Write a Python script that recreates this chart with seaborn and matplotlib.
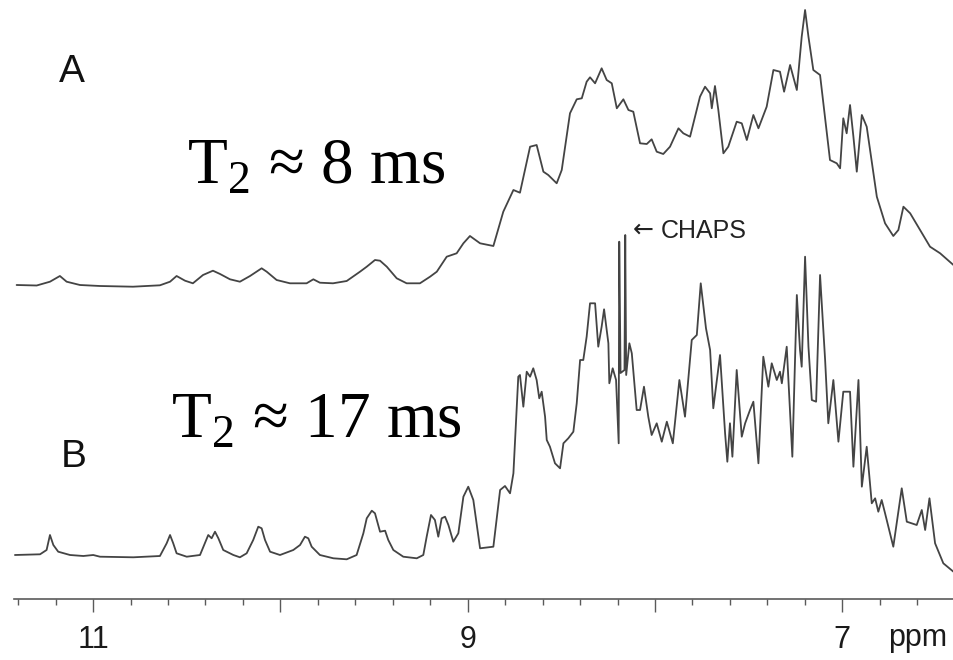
import numpy as np
import pandas as pd
import matplotlib
matplotlib.use("Agg")
import matplotlib.pyplot as plt
from matplotlib.ticker import MultipleLocator
import seaborn as sns

# spectrum A (T2 ~ 8 ms): chemical shift in ppm, height above its baseline (arb. units)
a_ppm = [11.408, 11.301, 11.230, 11.177, 11.141, 11.070, 10.963, 10.787, 10.643, 10.589,
         10.554, 10.509, 10.467, 10.413, 10.360, 10.322, 10.269, 10.216, 10.162, 10.100,
         10.073, 10.020, 9.949, 9.860, 9.824, 9.789, 9.719, 9.646, 9.575, 9.539,
         9.495, 9.468, 9.432, 9.379, 9.326, 9.255, 9.201, 9.165, 9.112, 9.059,
         9.023, 8.988, 8.934, 8.863, 8.810, 8.756, 8.721, 8.667, 8.632, 8.596,
         8.570, 8.525, 8.498, 8.454, 8.418, 8.391, 8.365, 8.347, 8.320, 8.285,
         8.258, 8.231, 8.204, 8.169, 8.142, 8.116, 8.080, 8.044, 8.018, 7.991,
         7.956, 7.920, 7.875, 7.849, 7.813, 7.760, 7.733, 7.706, 7.697, 7.680,
         7.662, 7.635, 7.609, 7.564, 7.537, 7.510, 7.475, 7.448, 7.404, 7.368,
         7.333, 7.311, 7.279, 7.243, 7.217, 7.199, 7.181, 7.155, 7.119, 7.066,
         7.030, 7.012, 6.995, 6.977, 6.959, 6.941, 6.923, 6.896, 6.870, 6.816,
         6.772, 6.728, 6.701, 6.674, 6.638, 6.585, 6.532, 6.478, 6.407]
a_int = [0, -0.5, 3.3, 9, 3.3, 0, -1, -1.7, -0.3, 3.3,
         9, 4.3, 1.7, 10, 14.3, 11, 5.7, 3.3, 9, 16.7,
         13.3, 5, 1.7, 1.7, 5.7, 2.3, 1.7, 4, 13.3, 18.3,
         25, 24.3, 18.3, 6.7, 1.7, 1.7, 8.3, 13.3, 28.3, 31.7,
         41.7, 49, 41.7, 39, 73.3, 95, 92.3, 138.3, 140, 113.3,
         110, 101.7, 115, 171.7, 185.7, 186.7, 203.3, 207.7, 201.7, 216.7,
         205, 201.7, 176.7, 185.7, 175, 173.3, 141.7, 141, 145.7, 133.3,
         131, 138.3, 156.7, 151.7, 148.3, 188.3, 198.3, 191.7, 176.7, 199,
         175, 131.7, 138.3, 163.3, 161.7, 145, 170, 156.7, 178.3, 215,
         213.3, 193.3, 220, 195, 248.3, 275, 248.3, 215, 210, 125,
         121.7, 116.7, 166.7, 151.7, 180, 148.3, 113.3, 170, 158.3, 88.3,
         61.7, 49, 55, 78.3, 71.7, 55, 38.3, 31.7, 20]

# spectrum B (T2 ~ 17 ms)
b_ppm = [11.417, 11.283, 11.248, 11.230, 11.212, 11.186, 11.123, 11.052, 10.999, 10.963,
         10.785, 10.643, 10.607, 10.589, 10.572, 10.554, 10.500, 10.429, 10.403, 10.385,
         10.367, 10.349, 10.331, 10.305, 10.251, 10.216, 10.180, 10.145, 10.118, 10.100,
         10.082, 10.055, 10.002, 9.931, 9.895, 9.869, 9.851, 9.833, 9.789, 9.717,
         9.646, 9.593, 9.557, 9.539, 9.512, 9.495, 9.468, 9.441, 9.424, 9.397,
         9.344, 9.272, 9.237, 9.219, 9.196, 9.175, 9.157, 9.139, 9.121, 9.103,
         9.077, 9.050, 9.023, 8.997, 8.970, 8.934, 8.863, 8.827, 8.801, 8.774,
         8.756, 8.730, 8.721, 8.703, 8.685, 8.667, 8.650, 8.632, 8.618, 8.605,
         8.587, 8.578, 8.561, 8.534, 8.507, 8.489, 8.463, 8.436, 8.418, 8.400,
         8.383, 8.365, 8.347, 8.320, 8.303, 8.285, 8.272, 8.249, 8.244, 8.226,
         8.208, 8.194, 8.191, 8.184, 8.163, 8.159, 8.154, 8.137, 8.124, 8.098,
         8.080, 8.059, 8.036, 8.018, 7.991, 7.964, 7.937, 7.905, 7.870, 7.840,
         7.804, 7.777, 7.756, 7.728, 7.706, 7.689, 7.653, 7.626, 7.614, 7.600,
         7.587, 7.564, 7.537, 7.519, 7.493, 7.475, 7.448, 7.422, 7.395, 7.377,
         7.350, 7.333, 7.323, 7.297, 7.267, 7.243, 7.226, 7.217, 7.199, 7.181,
         7.163, 7.140, 7.119, 7.092, 7.075, 7.048, 7.021, 6.995, 6.959, 6.941,
         6.914, 6.896, 6.870, 6.843, 6.825, 6.808, 6.790, 6.772, 6.728, 6.683,
         6.656, 6.603, 6.576, 6.558, 6.535, 6.505, 6.461, 6.407]
b_int = [0, 0.7, 5, 20, 10, 3.3, 0, -1, 0, -1.7,
         -2.3, -1, 11.7, 20, 11.7, 1.7, -1.7, 0, 11.7, 20,
         16.7, 23.3, 16.7, 5, 0, -2.3, 1.7, 15, 28.3, 26.7,
         15, 3.3, 0, 5, 10, 18.3, 16.7, 8.3, 0, -3.3,
         -4.3, 0, 21.7, 36.7, 44.3, 41.7, 23.3, 24.3, 15, 5,
         -1.7, -3.3, 0, 18.3, 40, 35, 18.3, 36.7, 38.3, 30,
         13.3, 21.7, 58.3, 68.3, 55, 6.7, 8.3, 65, 69, 61.7,
         81.7, 178.3, 180, 148.3, 183.3, 178.3, 186.7, 175, 156.7, 163.3,
         138.3, 115, 108.3, 91.7, 86.7, 111.7, 116.7, 123.3, 151.7, 195,
         195, 218.3, 251.7, 251.7, 208.3, 228.3, 245.7, 211.7, 171.7, 186.7,
         175, 111.7, 313.3, 182, 185, 320, 180, 211.7, 201.7, 145,
         145, 168.3, 138.3, 120, 131.7, 113.3, 133.3, 111.7, 175, 138.3,
         215, 220, 271.7, 226.7, 205, 146.7, 200, 121.7, 93.3, 131.7,
         98.3, 185, 118.3, 131.7, 145, 153.3, 91.7, 198.3, 168.3, 191.7,
         175, 183.3, 171.7, 208.3, 98.3, 260, 205, 188.3, 298.3, 208.3,
         155, 153.3, 280, 195, 131.7, 175, 113.3, 163.3, 163.3, 88.3,
         175, 68.3, 108.3, 51.7, 56.7, 43.3, 55, 41.7, 8.3, 66.7,
         33.3, 30, 45, 25, 56.7, 11.7, -8.3, -16.7]

major_ticks = [11, 10, 9, 8, 7]
major_labels = ["11", "", "9", "", "7"]

# vertical stacking of the two traces
A_OFFSET = 314
B_OFFSET = 44
LINE = "#444444"
AXIS = "#5a5a5a"

sns.set_theme(style="white")
plt.rcParams["font.family"] = ["Liberation Sans", "DejaVu Sans"]
plt.rcParams["mathtext.fontset"] = "custom"
plt.rcParams["mathtext.rm"] = "Liberation Serif"

W, H = 954, 660
fig = plt.figure(figsize=(W / 100, H / 100), dpi=100)
ax = fig.add_axes([14 / W, (H - 599) / H, (W - 14) / W, 599 / H])

spec_a = pd.DataFrame({"ppm": a_ppm, "y": np.array(a_int) + A_OFFSET})
spec_b = pd.DataFrame({"ppm": b_ppm, "y": np.array(b_int) + B_OFFSET})
for spec in (spec_a, spec_b):
    sns.lineplot(data=spec, x="ppm", y="y", sort=False, estimator=None,
                 color=LINE, linewidth=1.3, solid_joinstyle="round", ax=ax)

ax.set_xlim(11.422, 6.404)
ax.set_ylim(0, 599)
ax.set_xticks(major_ticks)
ax.set_xticklabels(major_labels)
ax.xaxis.set_minor_locator(MultipleLocator(0.2))
ax.set_yticks([])
ax.set_xlabel("")
ax.set_ylabel("")
sns.despine(ax=ax, left=True)
ax.spines["bottom"].set_color(AXIS)
ax.spines["bottom"].set_linewidth(1.2)
ax.tick_params(axis="x", which="major", bottom=True, direction="out", length=9,
               width=1, color=AXIS, labelsize=22, pad=10, labelcolor="#1a1a1a")
ax.tick_params(axis="x", which="minor", bottom=True, direction="out", length=4,
               width=1, color=AXIS)

def fx(px):
    return px / W

def fy(py):
    return 1 - py / H

fig.text(fx(918), fy(646), "ppm", ha="center", va="baseline", fontsize=22, color="#1a1a1a")

fig.text(fx(59), fy(82), "A", ha="left", va="baseline", fontsize=28, color="#111111")
fig.text(fx(61), fy(467), "B", ha="left", va="baseline", fontsize=28, color="#111111")

serif = ["Liberation Serif", "DejaVu Serif"]
fig.text(fx(187), fy(183), r"T$_{\mathrm{2}}$ ≈ 8 ms", ha="left", va="baseline",
         fontsize=47, family=serif, color="black")
fig.text(fx(171), fy(437), r"T$_{\mathrm{2}}$ ≈ 17 ms", ha="left", va="baseline",
         fontsize=47, family=serif, color="black")

fig.text(fx(633), fy(237), "←", ha="left", va="baseline", fontsize=18,
         family=["DejaVu Sans"], color="#222222")
fig.text(fx(661), fy(238), "CHAPS", ha="left", va="baseline", fontsize=18,
         color="#222222")

fig.savefig("out.png", dpi=100)
